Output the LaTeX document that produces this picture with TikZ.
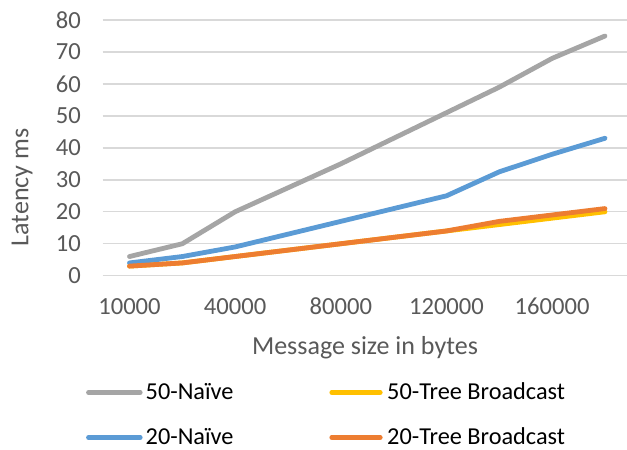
\documentclass[tikz,border=0pt]{standalone}
\usepackage{fontspec}
\setmainfont{Carlito}
\definecolor{sgray}{HTML}{A5A5A5}
\definecolor{syellow}{HTML}{FFC000}
\definecolor{sblue}{HTML}{5B9BD5}
\definecolor{sorange}{HTML}{ED7D31}
\definecolor{grid}{HTML}{D9D9D9}
\definecolor{axtext}{HTML}{595959}
\begin{document}
\begin{tikzpicture}[x=1pt,y=-1pt,
  tick/.style={inner sep=0pt,text=axtext,font=\fontsize{24.6}{29}\selectfont},
  axtitle/.style={inner sep=0pt,text=axtext,font=\fontsize{26}{31}\selectfont},
  legtext/.style={inner sep=0pt,text=black,anchor=base west,font=\fontsize{24.3}{29}\selectfont},
  series/.style={line width=4.8pt,line cap=round,line join=round},
  gridline/.style={grid,line width=1.4pt}]
\useasboundingbox[fill=white] (0,0) rectangle (627,450);
% grid and y tick labels
\foreach \v in {0,10,...,80}{
  \draw[gridline] (102.7,{275.7-3.196*\v}) -- (627,{275.7-3.196*\v});
  \node[tick,anchor=east] (yt\v) at (81,{275.7-3.196*\v}) {\v};
}
% x tick labels
\foreach \i/\lab in {0/10000,2/40000,4/80000,6/120000,8/160000}{
  \node[tick,anchor=base] (xt\i) at ({129.5+52.83*\i},314.3) {\lab};
}
\node[axtitle,anchor=base] (xtitle) at (365,354.3) {Message size in bytes};
\node[axtitle,anchor=base,rotate=90] (ytitle) at (28.4,187.5) {Latency ms};
% data
\begin{scope}[xshift=129.5pt,yshift=-275.7pt,x=52.83pt,y=3.196pt]
\draw[series,sgray] plot coordinates {(0,6) (1,10) (2,20) (3,27.5) (4,35) (5,43) (6,51) (7,59) (8,68) (9,75)};
\draw[series,syellow] plot coordinates {(0,3) (1,4) (2,6) (3,8) (4,10) (5,12) (6,14) (7,16) (8,18) (9,20)};
\draw[series,sblue] plot coordinates {(0,4) (1,6) (2,9) (3,13) (4,17) (5,21) (6,25) (7,32.5) (8,38) (9,43)};
\draw[series,sorange] plot coordinates {(0,3) (1,4) (2,6) (3,8) (4,10) (5,12) (6,14) (7,17) (8,19) (9,21)};
\end{scope}
% legend
\coordinate (l1a) at (88.5,392.5); \coordinate (l1b) at (140.2,392.5);
\coordinate (l2a) at (331.8,392.5); \coordinate (l2b) at (380.2,392.5);
\coordinate (l3a) at (88.5,437.5); \coordinate (l3b) at (140.2,437.5);
\coordinate (l4a) at (331.8,437.5); \coordinate (l4b) at (380.2,437.5);
\draw[series,sgray] (l1a) -- (l1b);
\draw[series,syellow] (l2a) -- (l2b);
\draw[series,sblue] (l3a) -- (l3b);
\draw[series,sorange] (l4a) -- (l4b);
\node[legtext] (lg1) at (145.5,399.8) {50-Naïve};
\node[legtext] (lg2) at (387,399.8) {50-Tree Broadcast};
\node[legtext] (lg3) at (145.5,444.8) {20-Naïve};
\node[legtext] (lg4) at (387,444.8) {20-Tree Broadcast};
\end{tikzpicture}
\end{document}
